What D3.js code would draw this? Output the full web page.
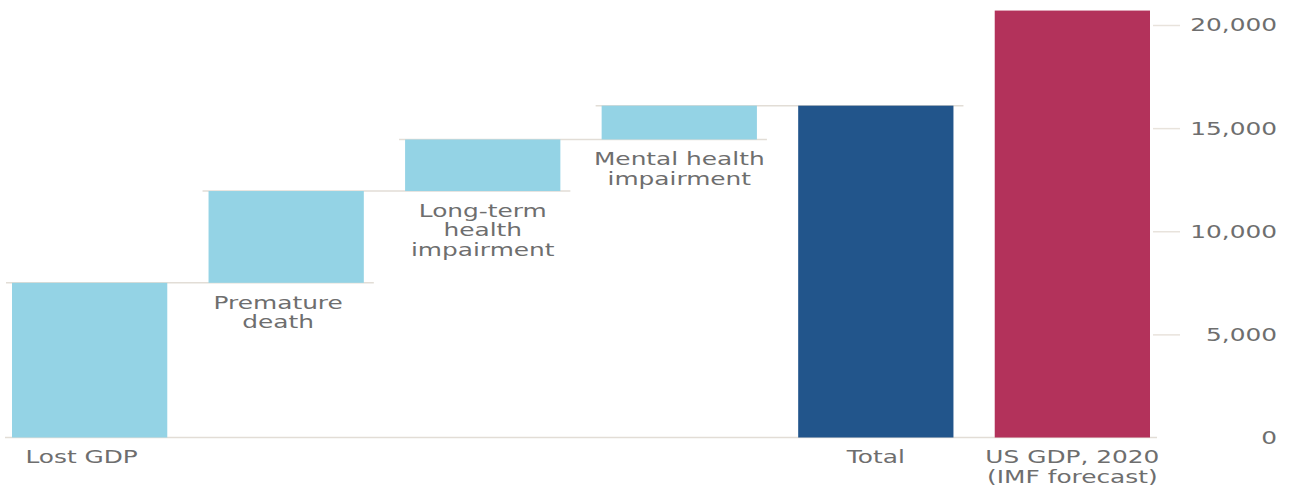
<!DOCTYPE html>
<html>
<head>
<meta charset="utf-8">
<script src="https://cdn.jsdelivr.net/npm/d3@7"></script>
<style>
  body { margin: 0; background: #fff; }
  svg { display: block; font-family: "DejaVu Sans", sans-serif; }
  .lbl { font-size: 17px; fill: #6e6e6e; }
</style>
</head>
<body>
<svg id="chart" width="1293" height="486"></svg>
<script>
// ---- data (US$ bn) ----
const categories = ["Lost GDP", "Premature death", "Long-term health impairment",
  "Mental health impairment", "Total", "US GDP, 2020 (IMF forecast)"];
const labelLines = [["Lost GDP"], ["Premature", "death"], ["Long-term", "health", "impairment"],
  ["Mental health", "impairment"], ["Total"], ["US GDP, 2020", "(IMF forecast)"]];
const increments = [7500, 4450, 2500, 1640];
const usGdp = 20700;
const yTicks = [0, 5000, 10000, 15000, 20000];

const SX = 1.46; // reference text is stretched wide

// build bar table: start/end for each category
let run = 0;
const bars = categories.map((c, i) => {
  if (i < increments.length) {
    const b = { cat: c, y0: run, y1: run + increments[i], fill: "#94d3e5" };
    run += increments[i];
    return b;
  }
  if (c === "Total") return { cat: c, y0: 0, y1: d3.sum(increments), fill: "#22558b" };
  return { cat: c, y0: 0, y1: usGdp, fill: "#b3325b" };
});

const svg = d3.select("#chart");

const x = d3.scaleBand().domain(categories).range([12, 1150]).paddingInner(0.21).paddingOuter(0);
const y = d3.scaleLinear().domain([0, 20000]).range([437.5, 25]);
const bw = x.bandwidth();

function stretchedText(g, px, py, str, anchor) {
  return g.append("text")
    .attr("class", "lbl")
    .attr("text-anchor", anchor)
    .attr("dy", "0.35em")
    .attr("transform", `translate(${px},${py}) scale(${SX},1)`)
    .text(str);
}

// baseline
svg.append("line")
  .attr("x1", 5).attr("x2", 1157)
  .attr("y1", y(0)).attr("y2", y(0))
  .attr("stroke", "#e2ddd6").attr("stroke-width", 1.5);

// connectors between steps
d3.range(increments.length).forEach(i => {
  const yy = y(bars[i].y1);
  svg.append("line")
    .attr("x1", x(categories[i]) - 6)
    .attr("x2", x(categories[i + 1]) + bw + 10)
    .attr("y1", yy).attr("y2", yy)
    .attr("stroke", "#e2ddd6").attr("stroke-width", 1.5);
});

// bars
svg.selectAll(".bar")
  .data(bars)
  .enter()
  .append("rect")
  .attr("class", "bar")
  .attr("x", d => x(d.cat))
  .attr("width", bw)
  .attr("y", d => y(d.y1))
  .attr("height", d => y(d.y0) - y(d.y1))
  .attr("fill", d => d.fill);

// category labels under each bar (first two sit a little to the left)
bars.forEach((b, i) => {
  const cx = x(b.cat) + bw / 2 - (i < 2 ? 8 : 0);
  labelLines[i].forEach((ln, k) => {
    stretchedText(svg, cx, y(b.y0) + 20 + k * 19.5, ln, "middle");
  });
});

// y axis on the right
const axis = svg.append("g")
  .attr("transform", "translate(1153,0)")
  .call(d3.axisRight(y).tickValues(yTicks).tickSize(27).tickFormat(d3.format(",")));
axis.select(".domain").remove();
axis.selectAll(".tick line")
  .attr("stroke", "#e8e3dc")
  .attr("stroke-width", 1.5)
  .style("display", d => d === 0 ? "none" : null);
axis.selectAll(".tick text")
  .attr("class", "lbl")
  .attr("x", null)
  .attr("dy", "0.35em")
  .attr("text-anchor", "end")
  .attr("transform", `translate(124,0) scale(${SX},1)`)
  .attr("fill", null);
axis.attr("font-size", null).attr("font-family", null);
</script>
</body>
</html>
